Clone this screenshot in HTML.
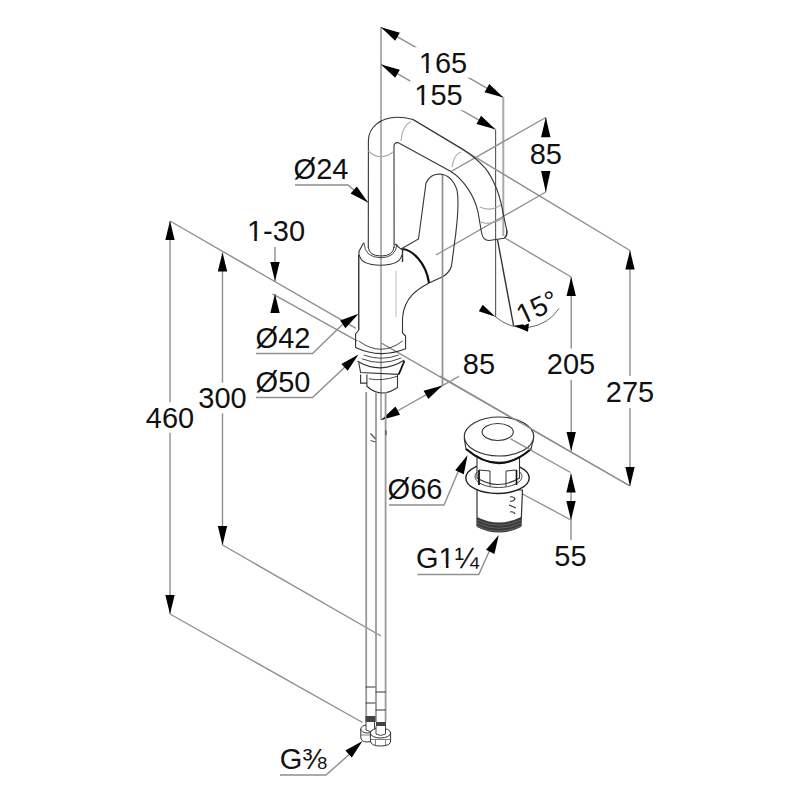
<!DOCTYPE html>
<html><head><meta charset="utf-8"><style>
html,body{margin:0;padding:0;background:#fff;}
svg{display:block;}
text{font-family:"Liberation Sans",sans-serif;fill:#111;}
</style></head><body>
<svg width="799" height="800" viewBox="0 0 799 800">
<rect width="799" height="800" fill="#fff"/>
<line x1="381" y1="27.3" x2="381" y2="420" stroke="#8f8f8f" stroke-width="1.4"/>
<line x1="381" y1="27.3" x2="503.4" y2="97.6" stroke="#8f8f8f" stroke-width="1.4"/>
<polygon points="381.00,27.30 395.14,40.84 399.82,32.69" fill="#000"/>
<polygon points="503.40,97.60 489.26,84.06 484.58,92.21" fill="#000"/>
<line x1="503.3" y1="97" x2="503.3" y2="236" stroke="#aaa" stroke-width="2"/>
<line x1="381" y1="64.4" x2="495.3" y2="129.3" stroke="#8f8f8f" stroke-width="1.4"/>
<polygon points="381.00,64.40 395.20,77.87 399.84,69.69" fill="#000"/>
<polygon points="495.30,129.30 481.10,115.83 476.46,124.01" fill="#000"/>
<line x1="495.6" y1="129.5" x2="495.6" y2="317" stroke="#555" stroke-width="1.1"/>
<rect x="414.8" y="47.2" width="56.5" height="30.5" fill="#fff"/>
<text x="443" y="72.5" text-anchor="middle" font-size="29" >165</text>
<rect x="420.51" y="69.03" width="5.55" height="4.77" fill="#fff"/>
<rect x="428.70" y="69.03" width="5.40" height="4.77" fill="#fff"/>
<rect x="410.3" y="80.0" width="56.5" height="30.2" fill="#fff"/>
<text x="438.5" y="105" text-anchor="middle" font-size="29" >155</text>
<rect x="416.01" y="101.53" width="5.55" height="4.77" fill="#fff"/>
<rect x="424.20" y="101.53" width="5.40" height="4.77" fill="#fff"/>
<line x1="545.8" y1="117.5" x2="451" y2="171.5" stroke="#8f8f8f" stroke-width="1.4"/>
<line x1="545.8" y1="192" x2="436" y2="255" stroke="#8f8f8f" stroke-width="1.4"/>
<line x1="545.8" y1="117.5" x2="545.8" y2="135" stroke="#8f8f8f" stroke-width="1.4"/>
<line x1="545.8" y1="175" x2="545.8" y2="192" stroke="#8f8f8f" stroke-width="1.4"/>
<polygon points="545.80,117.20 541.10,137.20 550.50,137.20" fill="#000"/>
<polygon points="545.80,192.00 550.50,171.00 541.10,171.00" fill="#000"/>
<rect x="525.7" y="138.6" width="40.2" height="30.5" fill="#fff"/>
<text x="545.8" y="163.8" text-anchor="middle" font-size="29" >85</text>
<line x1="413" y1="119.5" x2="630" y2="250.5" stroke="#8f8f8f" stroke-width="1.4"/>
<line x1="630" y1="250.5" x2="630" y2="376" stroke="#8f8f8f" stroke-width="1.4"/>
<line x1="630" y1="408" x2="630" y2="486" stroke="#8f8f8f" stroke-width="1.4"/>
<polygon points="630.00,250.50 625.30,269.50 634.70,269.50" fill="#000"/>
<polygon points="630.00,486.00 634.70,467.00 625.30,467.00" fill="#000"/>
<rect x="601.8" y="376.8" width="56.5" height="30.5" fill="#fff"/>
<text x="630" y="402" text-anchor="middle" font-size="29" >275</text>
<line x1="505" y1="238" x2="571.2" y2="277" stroke="#8f8f8f" stroke-width="1.4"/>
<line x1="571.2" y1="277" x2="571.2" y2="354" stroke="#8f8f8f" stroke-width="1.4"/>
<line x1="571.2" y1="380" x2="571.2" y2="451" stroke="#8f8f8f" stroke-width="1.4"/>
<polygon points="571.20,277.00 566.50,296.00 575.90,296.00" fill="#000"/>
<polygon points="571.20,451.00 575.90,432.00 566.50,432.00" fill="#000"/>
<rect x="542.8" y="348.6" width="56.5" height="30.5" fill="#fff"/>
<text x="571" y="373.8" text-anchor="middle" font-size="29" >205</text>
<line x1="170" y1="221" x2="356" y2="328.4" stroke="#8f8f8f" stroke-width="1.4"/>
<line x1="381" y1="342.8" x2="630" y2="486" stroke="#8f8f8f" stroke-width="1.4"/>
<line x1="170" y1="221" x2="170" y2="404" stroke="#8f8f8f" stroke-width="1.4"/>
<line x1="170" y1="432" x2="170" y2="614" stroke="#8f8f8f" stroke-width="1.4"/>
<polygon points="170.00,221.00 165.30,240.00 174.70,240.00" fill="#000"/>
<polygon points="170.00,614.00 174.70,595.00 165.30,595.00" fill="#000"/>
<rect x="141.8" y="402.2" width="56.5" height="30.5" fill="#fff"/>
<text x="170" y="427.5" text-anchor="middle" font-size="29" >460</text>
<line x1="222.5" y1="252.5" x2="222.5" y2="385" stroke="#8f8f8f" stroke-width="1.4"/>
<line x1="222.5" y1="412" x2="222.5" y2="545" stroke="#8f8f8f" stroke-width="1.4"/>
<polygon points="222.50,252.50 217.80,271.50 227.20,271.50" fill="#000"/>
<polygon points="222.50,545.00 227.20,526.00 217.80,526.00" fill="#000"/>
<rect x="194.3" y="382.8" width="56.5" height="30.5" fill="#fff"/>
<text x="222.5" y="408" text-anchor="middle" font-size="29" >300</text>
<line x1="170" y1="614" x2="362.5" y2="722.5" stroke="#8f8f8f" stroke-width="1.4"/>
<line x1="222.5" y1="545" x2="381" y2="636" stroke="#8f8f8f" stroke-width="1.4"/>
<line x1="272.5" y1="293.8" x2="357.5" y2="341.2" stroke="#8f8f8f" stroke-width="1.4"/>
<line x1="275" y1="247" x2="275" y2="281" stroke="#8f8f8f" stroke-width="1.4"/>
<polygon points="275.00,281.00 279.70,262.00 270.30,262.00" fill="#000"/>
<line x1="275" y1="294" x2="275" y2="312" stroke="#8f8f8f" stroke-width="1.4"/>
<polygon points="275.00,294.00 270.30,313.00 279.70,313.00" fill="#000"/>
<rect x="243.0" y="215.8" width="66.0" height="30.5" fill="#fff"/>
<text x="276" y="241" text-anchor="middle" font-size="29" >1-30</text>
<rect x="248.68" y="237.53" width="5.55" height="4.77" fill="#fff"/>
<rect x="256.88" y="237.53" width="5.40" height="4.77" fill="#fff"/>
<rect x="251.6" y="321.5" width="62.8" height="31.8" fill="#fff"/>
<text x="283" y="347.5" text-anchor="middle" font-size="29" >Ø42</text>
<polyline points="256,353.5 312.5,353.5 342.5,324.5" fill="none" stroke="#8f8f8f" stroke-width="1.4"/>
<polygon points="358.60,313.80 340.17,320.40 345.38,328.23" fill="#000"/>
<rect x="251.6" y="365.5" width="62.8" height="31.8" fill="#fff"/>
<text x="283" y="391.5" text-anchor="middle" font-size="29" >Ø50</text>
<polyline points="256,397.5 312.5,397.5 346,366" fill="none" stroke="#8f8f8f" stroke-width="1.4"/>
<polygon points="358.50,354.50 341.34,363.91 347.70,370.82" fill="#000"/>
<rect x="289.6" y="152.8" width="62.8" height="31.8" fill="#fff"/>
<text x="321" y="178.8" text-anchor="middle" font-size="29" >Ø24</text>
<polyline points="295,185 348,185 368,202.5" fill="none" stroke="#8f8f8f" stroke-width="1.4"/>
<polygon points="368.00,202.50 356.80,186.45 350.61,193.53" fill="#000"/>
<rect x="383.6" y="472.8" width="62.8" height="31.8" fill="#fff"/>
<text x="415" y="498.8" text-anchor="middle" font-size="29" >Ø66</text>
<polyline points="389,505 444,505 461,465" fill="none" stroke="#8f8f8f" stroke-width="1.4"/>
<polygon points="467.60,455.00 455.24,470.18 463.74,474.19" fill="#000"/>
<rect x="412.1" y="542.2" width="71.2" height="31.0" fill="#fff"/>
<text x="447.5" y="567.5" text-anchor="middle" font-size="29" >G1¼</text>
<rect x="440.32" y="564.03" width="5.55" height="4.77" fill="#fff"/>
<rect x="448.52" y="564.03" width="5.40" height="4.77" fill="#fff"/>
<polyline points="417.5,574.5 478.8,574.5 492,545" fill="none" stroke="#8f8f8f" stroke-width="1.4"/>
<polygon points="498.80,535.00 486.02,549.83 494.41,554.07" fill="#000"/>
<rect x="275.6" y="743.8" width="55.0" height="31.0" fill="#fff"/>
<text x="303" y="769" text-anchor="middle" font-size="29" >G⅜</text>
<polyline points="280,775 326,775 352,752" fill="none" stroke="#8f8f8f" stroke-width="1.4"/>
<polygon points="362.50,741.00 345.39,750.51 351.80,757.39" fill="#000"/>
<line x1="442.5" y1="175" x2="442.5" y2="385.6" stroke="#8f8f8f" stroke-width="1.4"/>
<line x1="381.2" y1="420" x2="462.5" y2="374.4" stroke="#8f8f8f" stroke-width="1.4"/>
<polygon points="381.20,420.00 400.07,414.80 395.47,406.60" fill="#000"/>
<polygon points="442.50,385.60 423.63,390.80 428.23,399.00" fill="#000"/>
<rect x="458.9" y="348.8" width="40.2" height="30.5" fill="#fff"/>
<text x="479" y="374" text-anchor="middle" font-size="29" >85</text>
<line x1="522.5" y1="494" x2="571" y2="520" stroke="#8f8f8f" stroke-width="1.4"/>
<line x1="571" y1="473.4" x2="571" y2="540" stroke="#8f8f8f" stroke-width="1.4"/>
<polygon points="571.00,473.40 566.30,492.40 575.70,492.40" fill="#000"/>
<polygon points="571.00,520.00 575.70,501.00 566.30,501.00" fill="#000"/>
<rect x="550.4" y="541.0" width="40.2" height="30.2" fill="#fff"/>
<text x="570.5" y="566" text-anchor="middle" font-size="29" >55</text>
<path d="M368.3,248 L368.4,141 C368.4,127 381,117.25 397,117.25 Q405,117.25 413,119.5 L462,148.8 Q476,158 485,167.8 Q491,175 496.8,189.2 Q501,200 504,217.7 L506.9,231 Q507.5,236 505,237.3" fill="none" stroke="#333" stroke-width="1.1"/>
<path d="M394.1,248 L394,146 Q394,142.3 398,142.6 L450,171 C462,178 474,194 478,212 L481.6,233 Q483,240.5 489,240.5 L504,238.3 Q507,236 507,230" fill="none" stroke="#333" stroke-width="1.1"/>
<path d="M368.4,151 Q380,162 393,152" fill="none" stroke="#aaa" stroke-width="1.1"/>
<path d="M401,141 Q402,126 411,121.5" fill="none" stroke="#aaa" stroke-width="1.1"/>
<path d="M452,167 Q454,154 461,152" fill="none" stroke="#aaa" stroke-width="1.1"/>
<path d="M480,207 Q490,212 501,205" fill="none" stroke="#aaa" stroke-width="1.1"/>
<path d="M480.5,222 Q490,226 504,218" fill="none" stroke="#999" stroke-width="1.0"/>
<path d="M401,249 L418.5,239 L426,183 Q430,174 440,174 Q452,175 457,190 Q460,205 454,247 L451.5,266 Q449,274 441,277.5 L429,283" fill="none" stroke="#333" stroke-width="1.1"/>
<line x1="442.5" y1="175" x2="442.5" y2="385" stroke="#8f8f8f" stroke-width="1.4"/>
<path d="M359,256 L359,251.5 L363.3,243.3 L364.5,243.3" fill="none" stroke="#333" stroke-width="1.1"/>
<path d="M395,244 L401.6,249.7" fill="none" stroke="#333" stroke-width="1.1"/>
<path d="M359.3,255 Q361,265 380.5,265.2 Q400,265 401.8,255" fill="none" stroke="#333" stroke-width="1.1"/>
<path d="M364,243.5 Q365,257.5 381,257.8 Q396,257.5 397,244" fill="none" stroke="#333" stroke-width="0.9"/>
<path d="M368.3,247 Q369,256 381,256 Q393,256 394.1,247" fill="none" stroke="#333" stroke-width="1.0"/>
<line x1="358.75" y1="255" x2="358.75" y2="330" stroke="#333" stroke-width="1.4"/>
<line x1="402.5" y1="249" x2="402.5" y2="262" stroke="#333" stroke-width="1.4"/>
<path d="M402.5,249 C412,250 426,262 429,283" fill="none" stroke="#111" stroke-width="2.2"/>
<path d="M429,283 C418,289 404,297 402.5,318 L402.5,333" fill="none" stroke="#333" stroke-width="1.1"/>
<line x1="396" y1="271" x2="396" y2="317" stroke="#ccc" stroke-width="1.4"/>
<path d="M358.75,330 L355.6,334 L355.6,347.5 Q380,359 405.6,348.75 L405.6,336 L402.5,333" fill="none" stroke="#333" stroke-width="1.1"/>
<path d="M358.75,341 Q381,357.5 402.5,341" fill="none" stroke="#333" stroke-width="0.9"/>
<path d="M363.75,355 Q381,361.5 398.75,355" fill="none" stroke="#333" stroke-width="0.9"/>
<path d="M361.9,358.75 Q381,366.5 401.25,358" fill="none" stroke="#333" stroke-width="0.9"/>
<path d="M357.5,361.25 Q381,375 404.4,360" fill="none" stroke="#333" stroke-width="1.2"/>
<path d="M358.75,362.5 L360.6,372.5 L398.75,374.4" fill="none" stroke="#333" stroke-width="1.1"/>
<path d="M404.4,361 L398.75,374.4" fill="none" stroke="#111" stroke-width="1.8"/>
<path d="M366.9,374.4 L366.9,386.25 Q381,399 397.5,387.5 L397.5,375" fill="none" stroke="#333" stroke-width="1.1"/>
<path d="M368.75,378.75 Q381,381.5 397.5,376.25" fill="none" stroke="#333" stroke-width="0.9"/>
<path d="M360.6,374.4 L360.6,383.1 L366.9,383.1" fill="none" stroke="#333" stroke-width="1.1"/>
<line x1="366.2" y1="392" x2="366.2" y2="722" stroke="#999" stroke-width="1.8"/>
<line x1="376" y1="392" x2="376" y2="722" stroke="#999" stroke-width="1.8"/>
<line x1="385.6" y1="392" x2="385.6" y2="722" stroke="#999" stroke-width="1.8"/>
<path d="M370.5,433.5 Q373,436 375.5,439 M370.5,440.5 L375.5,442" fill="none" stroke="#555" stroke-width="1.3"/>
<line x1="385.9" y1="430.5" x2="385.9" y2="435" stroke="#666" stroke-width="1.8"/>
<line x1="365.5" y1="687" x2="375.5" y2="687" stroke="#555" stroke-width="1.2"/>
<line x1="365.5" y1="703" x2="375.5" y2="703" stroke="#555" stroke-width="1.2"/>
<line x1="375.5" y1="692" x2="386" y2="692" stroke="#555" stroke-width="1.2"/>
<line x1="375.5" y1="710" x2="386" y2="710" stroke="#555" stroke-width="1.2"/>
<rect x="365.5" y="716" width="10" height="6" fill="#444"/>
<rect x="376" y="722" width="10" height="4" fill="#444"/>
<path d="M360.8,729 L360.8,737 Q361,742 367.3,742 Q373.8,742 373.8,737 L373.8,729 Z" fill="#fff" stroke="#333" stroke-width="1"/>
<ellipse cx="367.3" cy="729" rx="6.5" ry="4" fill="#fff" stroke="#333" stroke-width="1"/>
<path d="M366,722 L366,730 Q370,733 374.5,730 L374.5,722" fill="#fff" stroke="#444" stroke-width="1"/>
<line x1="361" y1="735" x2="374" y2="735" stroke="#666" stroke-width="0.8"/>
<path d="M370.4,733 L370.4,741 Q371,746 380.5,746 Q390.6,746 390.6,741 L390.6,733 Z" fill="#fff" stroke="#333" stroke-width="1"/>
<ellipse cx="380.5" cy="733" rx="10.1" ry="5" fill="#fff" stroke="#333" stroke-width="1"/>
<path d="M376,726 L376,734 Q380.5,737 385.5,734 L385.5,726" fill="#fff" stroke="#444" stroke-width="1"/>
<line x1="370.5" y1="739.5" x2="390.5" y2="739.5" stroke="#666" stroke-width="0.8"/>
<line x1="375.5" y1="740" x2="375.5" y2="745.5" stroke="#666" stroke-width="0.8"/>
<line x1="385.5" y1="740" x2="385.5" y2="745.5" stroke="#666" stroke-width="0.8"/>
<path d="M477,490 L477,526 Q499,537 521,526 L522.5,490 Z" fill="#fff" stroke="#333" stroke-width="1.2"/>
<path d="M477,517 Q499,528 521,517 L521,527 Q499,538 477,527 Z" fill="#3a3a3a"/>
<path d="M477,520 Q499,530.5 521,520" fill="none" stroke="#888" stroke-width="0.5"/>
<path d="M477,523 Q499,533.5 521,523" fill="none" stroke="#888" stroke-width="0.5"/>
<path d="M477,526 Q499,536.5 521,526" fill="none" stroke="#888" stroke-width="0.5"/>
<path d="M510,497 Q514,496 515,499 Q513,502 510,501 M509,505 L516,508 M510,512 Q514,511 515,514" fill="none" stroke="#333" stroke-width="1.2"/>
<ellipse cx="497.5" cy="478" rx="31.7" ry="15.5" fill="#fff" stroke="#222" stroke-width="1.4"/>
<ellipse cx="498.5" cy="476.5" rx="23.5" ry="11" fill="#fff" stroke="#444" stroke-width="1.0"/>
<path d="M477,456 L477,478 Q498,491 519.5,478 L519.5,456 Z" fill="#fff" stroke="#333" stroke-width="1.1"/>
<path d="M479,485 L479,470 L490,471 L490,486.5 M506,486.5 L506,471 L516.5,470 L516.5,485" fill="none" stroke="#333" stroke-width="1.0"/>
<path d="M479,470 L479,485" fill="none" stroke="#111" stroke-width="1.6"/>
<path d="M516.5,470 L516.5,485" fill="none" stroke="#111" stroke-width="1.6"/>
<path d="M464.3,438.8 L466,449 Q499,477 531,449 L533.5,438.8 Z" fill="#fff" stroke="#333" stroke-width="1.1"/>
<path d="M466,449 Q499,477 531,449" fill="none" stroke="#111" stroke-width="2.2"/>
<path d="M467.5,444.5 Q499,466 530.5,443.5" fill="none" stroke="#999" stroke-width="0.9"/>
<ellipse cx="499" cy="436.5" rx="34.7" ry="19.5" fill="#fff" stroke="#333" stroke-width="1.2"/>
<ellipse cx="497.7" cy="432" rx="15.6" ry="8.5" fill="none" stroke="#333" stroke-width="1.1"/>
<line x1="510.7" y1="438.8" x2="570.5" y2="472.5" stroke="#8f8f8f" stroke-width="1.4"/>
<line x1="440" y1="376.2" x2="630" y2="486" stroke="#8f8f8f" stroke-width="1.4"/>
<line x1="497.5" y1="239.6" x2="513.6" y2="325.8" stroke="#333" stroke-width="1.4"/>
<path d="M495.4,316.7 A42.2,42.2 0 0 0 559,308.5" fill="none" stroke="#666" stroke-width="1.0"/>
<polygon points="495.40,316.70 482.68,304.79 478.83,311.34" fill="#000"/>
<polygon points="513.60,325.80 527.98,331.79 529.00,323.45" fill="#000"/>
<g transform="translate(522,325) rotate(-25)">
<text x="0" y="0" text-anchor="start" font-size="28" >15°</text>
<rect x="1.64" y="-3.39" width="5.36" height="4.69" fill="#fff"/>
<rect x="9.56" y="-3.39" width="5.21" height="4.69" fill="#fff"/>
</g>
</svg></body></html>
